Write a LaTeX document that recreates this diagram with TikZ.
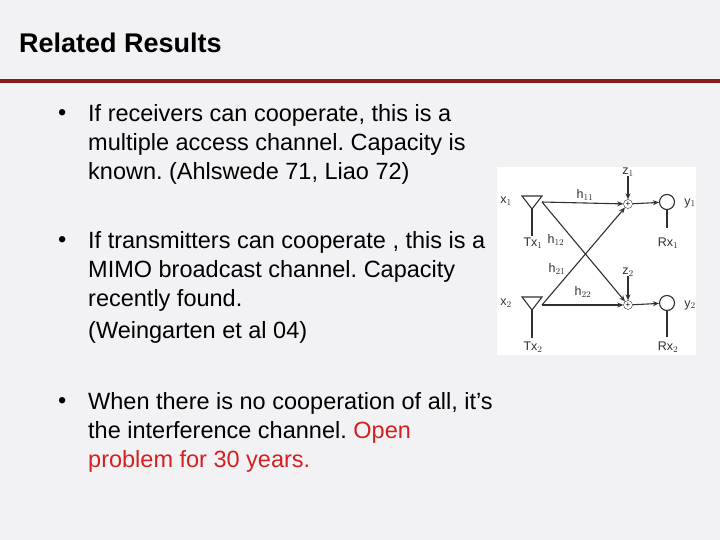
\documentclass[tikz,border=0pt]{standalone}
\usepackage{fontspec}
\setmainfont{Liberation Sans}
\usetikzlibrary{arrows.meta}
\definecolor{bg}{HTML}{F2F2F4}
\definecolor{rule}{HTML}{8B1A1A}
\definecolor{dk}{HTML}{303030}
\tikzset{
 txt/.style={anchor=west,font=\fontsize{23.5}{29}\selectfont,text=black,align=left,inner sep=0},
 lbl/.style={font=\fontsize{12.5}{13}\selectfont,text=dk,inner sep=0},
 ln/.style={draw=dk,line width=1.1pt},
 arr/.style={ln,-{Stealth[length=6pt,width=5pt]}}
}
\frenchspacing
\begin{document}
\begin{tikzpicture}[x=1pt,y=-1pt]
\fill[bg] (0,0) rectangle (720,540);
\useasboundingbox (0,0) rectangle (720,540);
\node[anchor=west,font=\bfseries\fontsize{27}{30}\selectfont,inner sep=0] (title) at (19,43) {Related Results};
\fill[rule] (0,79) rectangle (720,83);
\node[txt] (b1) at (58,115) {•};
\node[txt] (t1) at (88,144) {If receivers can cooperate, this is a\\multiple access channel. Capacity is\\known. (Ahlswede 71, Liao 72)};
\node[txt] (b2) at (58,242) {•};
\node[txt] (t2) at (88,287) {If transmitters can cooperate , this is a\\MIMO broadcast channel. Capacity\\recently found.\\[3pt](Weingarten et al 04)};
\node[txt] (b3) at (58,403) {•};
\node[txt] (t3) at (88,432) {When there is no cooperation of all, it’s\\the interference channel. \textcolor[HTML]{D42020}{Open}\\\textcolor[HTML]{D42020}{problem for 30 years.}};
% diagram
\fill[white] (497,167) rectangle (696,355);
\coordinate (tx1) at (542,202);
\coordinate (tx2) at (542,305);
\draw[ln] (522,196) -- (542,196) -- (532,209) -- cycle;
\draw[ln] (532,209) -- (532,236);
\draw[ln] (522,297) -- (542,297) -- (532,310) -- cycle;
\draw[ln] (532,310) -- (532,338);
\node[lbl] (x1) at (506,201) {x$_1$};
\node[lbl] (x2) at (506,303) {x$_2$};
\node[lbl] (tl1) at (533,243) {Tx$_1$};
\node[lbl] (tl2) at (533,347) {Tx$_2$};
\node[draw=dk,circle,minimum size=9pt,inner sep=0,font=\fontsize{8}{8}\selectfont] (p1) at (628,204) {+};
\node[draw=dk,circle,minimum size=9pt,inner sep=0,font=\fontsize{8}{8}\selectfont] (p2) at (628,305) {+};
\node[draw=dk,circle,minimum size=15pt,inner sep=0,line width=1.1pt] (r1) at (667,202) {};
\node[draw=dk,circle,minimum size=15pt,inner sep=0,line width=1.1pt] (r2) at (667,303) {};
\coordinate (s1) at (667,228);
\coordinate (s2) at (667,337);
\draw[ln] (r1) -- (s1);
\draw[ln] (r2) -- (s2);
\node[lbl] (rl1) at (668,243) {Rx$_1$};
\node[lbl] (rl2) at (668,347) {Rx$_2$};
\node[lbl] (y1) at (690,203) {y$_1$};
\node[lbl] (y2) at (690,305) {y$_2$};
\node[lbl] (z1) at (628,172) {z$_1$};
\node[lbl] (z2) at (628,272) {z$_2$};
\draw[arr] (z1) -- (p1);
\draw[arr] (z2) -- (p2);
\draw[arr] (tx1) -- (p1);
\draw[arr] (tx2) -- (p2);
\draw[arr] (tx1) -- (p2);
\draw[arr] (tx2) -- (p1);
\draw[arr] (p1) -- (r1);
\draw[arr] (p2) -- (r2);
\node[lbl] (h11) at (585,195) {h$_{11}$};
\node[lbl] (h12) at (556,240) {h$_{12}$};
\node[lbl] (h21) at (557,269) {h$_{21}$};
\node[lbl] (h22) at (583,292) {h$_{22}$};
\end{tikzpicture}
\end{document}
